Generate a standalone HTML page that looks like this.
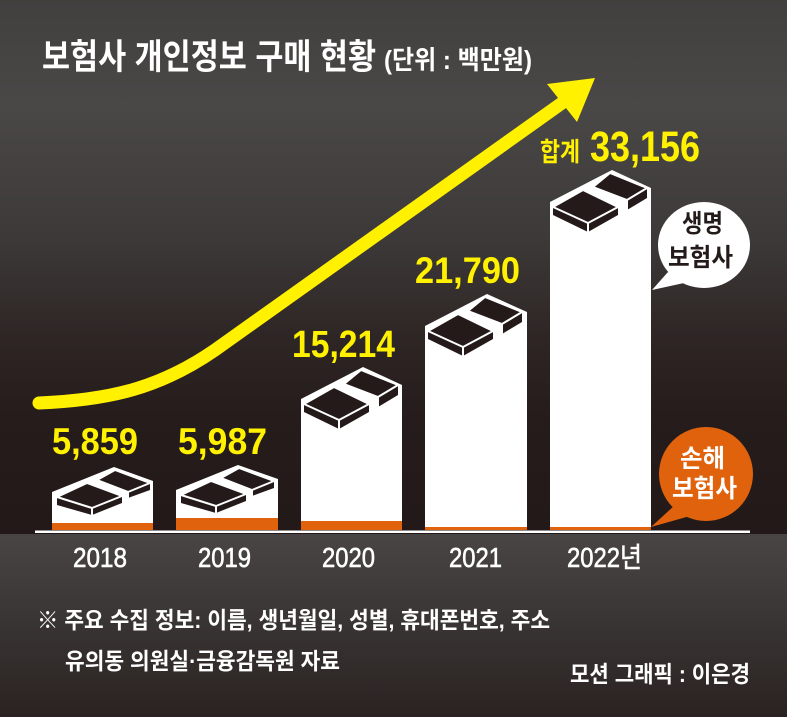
<!DOCTYPE html>
<html>
<head>
<meta charset="utf-8">
<style>
  html,body{margin:0;padding:0;background:#231a19;}
  svg{display:block;}
  .kr{font-family:"Liberation Sans","Noto Sans CJK KR",sans-serif;font-weight:bold;}
  .num{font-family:"Liberation Sans",sans-serif;font-weight:bold;}
</style>
</head>
<body>
<svg width="787" height="717" viewBox="0 0 787 717" xmlns="http://www.w3.org/2000/svg">
  <defs>
    <linearGradient id="g1" x1="0" y1="0" x2="0" y2="533" gradientUnits="userSpaceOnUse">
      <stop offset="0" stop-color="#42403f"/>
      <stop offset="0.2" stop-color="#4a4847"/>
      <stop offset="0.45" stop-color="#3c3938"/>
      <stop offset="0.62" stop-color="#2f2726"/>
      <stop offset="0.78" stop-color="#251c1b"/>
      <stop offset="1" stop-color="#221918"/>
    </linearGradient>
    <linearGradient id="g2" x1="0" y1="533" x2="0" y2="717" gradientUnits="userSpaceOnUse">
      <stop offset="0" stop-color="#484544"/>
      <stop offset="0.45" stop-color="#3a3635"/>
      <stop offset="1" stop-color="#2a2221"/>
    </linearGradient>
  </defs>

  <rect x="0" y="0" width="787" height="534" fill="url(#g1)"/>
  <rect x="0" y="534" width="787" height="183" fill="url(#g2)"/>

  <!-- Title -->
  <text class="kr" x="42" y="69" font-size="35" fill="#ffffff" textLength="334" lengthAdjust="spacingAndGlyphs">보험사 개인정보 구매 현황</text>
  <text class="kr" x="384" y="69" font-size="26" fill="#ffffff" textLength="148" lengthAdjust="spacingAndGlyphs">(단위 : 백만원)</text>

  <!-- Arrow -->
  <path d="M39,403 C110,400 160,388 215,350 L562,103" fill="none" stroke="#fff100" stroke-width="13" stroke-linecap="round" stroke-linejoin="round"/>
  <polygon points="547,84 595,78 577,122" fill="#fff100"/>

  <!-- Bar 2018 (type A) -->
  <g transform="translate(52,467)">
    <polygon points="0,25 62,0 101,14 101,63 0,63" fill="#ffffff"/>
    <rect x="0" y="56" width="101" height="7" fill="#e0620d"/>
    <polygon points="5,30 35,16 70,29 70,36 40,48 5,38" fill="#231a19"/>
    <polygon points="5,30 35,16 70,29 40,41" fill="#231a19" stroke="#fff" stroke-width="2" stroke-linejoin="round"/>
    <line x1="40" y1="41" x2="40" y2="48" stroke="#fff" stroke-width="2"/>
    <polygon points="45,13 63,3 98,16 98,23 76,31 76,25" fill="#231a19"/>
    <polygon points="45,13 63,3 98,16 76,25" fill="#231a19" stroke="#fff" stroke-width="2" stroke-linejoin="round"/>
    <line x1="76" y1="25" x2="76" y2="31" stroke="#fff" stroke-width="2"/>
  </g>

  <!-- Bar 2019 (type A) -->
  <g transform="translate(176,465)">
    <polygon points="0,25 62,0 102,14 102,65 0,65" fill="#ffffff"/>
    <rect x="0" y="53" width="102" height="12" fill="#e0620d"/>
    <polygon points="5,30 35,16 70,29 70,36 40,48 5,38" fill="#231a19"/>
    <polygon points="5,30 35,16 70,29 40,41" fill="#231a19" stroke="#fff" stroke-width="2" stroke-linejoin="round"/>
    <line x1="40" y1="41" x2="40" y2="48" stroke="#fff" stroke-width="2"/>
    <polygon points="45,13 63,3 98,16 98,23 76,31 76,25" fill="#231a19"/>
    <polygon points="45,13 63,3 98,16 76,25" fill="#231a19" stroke="#fff" stroke-width="2" stroke-linejoin="round"/>
    <line x1="76" y1="25" x2="76" y2="31" stroke="#fff" stroke-width="2"/>
  </g>

  <!-- Bar 2020 (type B) -->
  <g transform="translate(301,367)">
    <polygon points="0,32 62,0 101,18 101,163 0,163" fill="#ffffff"/>
    <rect x="0" y="154" width="101" height="9" fill="#e0620d"/>
    <polygon points="3,37 33,20 68,37 68,45 38,62 3,45" fill="#231a19"/>
    <polygon points="3,37 33,20 68,37 38,53" fill="#231a19" stroke="#fff" stroke-width="2" stroke-linejoin="round"/>
    <line x1="38" y1="53" x2="38" y2="62" stroke="#fff" stroke-width="2"/>
    <polygon points="43,17 60,3 97,18 97,28 77,40 77,30" fill="#231a19"/>
    <polygon points="43,17 60,3 97,18 77,30" fill="#231a19" stroke="#fff" stroke-width="2" stroke-linejoin="round"/>
    <line x1="77" y1="30" x2="77" y2="40" stroke="#fff" stroke-width="2"/>
  </g>

  <!-- Bar 2021 (type B) -->
  <g transform="translate(425,294)">
    <polygon points="0,32 62,0 102,18 102,236 0,236" fill="#ffffff"/>
    <rect x="0" y="233" width="102" height="3" fill="#e0620d"/>
    <polygon points="3,37 33,20 68,37 68,45 38,62 3,45" fill="#231a19"/>
    <polygon points="3,37 33,20 68,37 38,53" fill="#231a19" stroke="#fff" stroke-width="2" stroke-linejoin="round"/>
    <line x1="38" y1="53" x2="38" y2="62" stroke="#fff" stroke-width="2"/>
    <polygon points="43,17 60,3 97,18 97,28 77,40 77,30" fill="#231a19"/>
    <polygon points="43,17 60,3 97,18 77,30" fill="#231a19" stroke="#fff" stroke-width="2" stroke-linejoin="round"/>
    <line x1="77" y1="30" x2="77" y2="40" stroke="#fff" stroke-width="2"/>
  </g>

  <!-- Bar 2022 (type B) -->
  <g transform="translate(550,170)">
    <polygon points="0,32 62,0 101,18 101,360 0,360" fill="#ffffff"/>
    <rect x="0" y="357" width="101" height="3" fill="#e0620d"/>
    <polygon points="3,37 33,20 68,37 68,45 38,62 3,45" fill="#231a19"/>
    <polygon points="3,37 33,20 68,37 38,53" fill="#231a19" stroke="#fff" stroke-width="2" stroke-linejoin="round"/>
    <line x1="38" y1="53" x2="38" y2="62" stroke="#fff" stroke-width="2"/>
    <polygon points="43,17 60,3 97,18 97,28 77,40 77,30" fill="#231a19"/>
    <polygon points="43,17 60,3 97,18 77,30" fill="#231a19" stroke="#fff" stroke-width="2" stroke-linejoin="round"/>
    <line x1="77" y1="30" x2="77" y2="40" stroke="#fff" stroke-width="2"/>
  </g>

  <!-- Baseline -->
  <rect x="35" y="530.5" width="715" height="2.5" fill="#ffffff"/>

  <!-- Value labels -->
  <text class="num" x="52" y="454" font-size="37" fill="#fff100" textLength="86" lengthAdjust="spacingAndGlyphs">5,859</text>
  <text class="num" x="178" y="454" font-size="37" fill="#fff100" textLength="89" lengthAdjust="spacingAndGlyphs">5,987</text>
  <text class="num" x="292" y="357" font-size="38" fill="#fff100" textLength="103" lengthAdjust="spacingAndGlyphs">15,214</text>
  <text class="num" x="415" y="283" font-size="37" fill="#fff100" textLength="105" lengthAdjust="spacingAndGlyphs">21,790</text>
  <text class="kr" x="540" y="161" font-size="26" fill="#fff100" textLength="40" lengthAdjust="spacingAndGlyphs">합계</text>
  <text class="num" x="590" y="161" font-size="43" fill="#fff100" textLength="110" lengthAdjust="spacingAndGlyphs">33,156</text>

  <!-- Callout: 생명보험사 -->
  <polygon points="668,272 652,290 684,283" fill="#ffffff"/>
  <ellipse cx="704" cy="245" rx="46" ry="43" fill="#ffffff"/>
  <text class="kr" x="682" y="232" font-size="25" fill="#231a19" textLength="41" lengthAdjust="spacingAndGlyphs">생명</text>
  <text class="kr" x="668" y="266" font-size="25" fill="#231a19" textLength="65" lengthAdjust="spacingAndGlyphs">보험사</text>

  <!-- Callout: 손해보험사 -->
  <polygon points="675,505 651,527 690,516" fill="#e0620d"/>
  <circle cx="706" cy="474" r="47" fill="#e0620d"/>
  <text class="kr" x="680" y="467" font-size="25" fill="#ffffff" textLength="45" lengthAdjust="spacingAndGlyphs">손해</text>
  <text class="kr" x="672" y="497" font-size="25" fill="#ffffff" textLength="65" lengthAdjust="spacingAndGlyphs">보험사</text>

  <!-- Year labels -->
  <g font-family="'Liberation Sans','Noto Sans CJK KR',sans-serif" font-weight="normal" font-size="28" fill="#ffffff" stroke="#ffffff" stroke-width="0.6">
    <text x="73" y="567" textLength="54" lengthAdjust="spacingAndGlyphs">2018</text>
    <text x="198" y="567" textLength="53" lengthAdjust="spacingAndGlyphs">2019</text>
    <text x="322" y="567" textLength="53" lengthAdjust="spacingAndGlyphs">2020</text>
    <text x="449" y="567" textLength="53" lengthAdjust="spacingAndGlyphs">2021</text>
    <text x="567" y="567" textLength="75" lengthAdjust="spacingAndGlyphs">2022년</text>
  </g>

  <!-- Footer -->
  <text class="kr" x="37" y="628" font-size="23" fill="#ffffff" textLength="513" lengthAdjust="spacingAndGlyphs">※ 주요 수집 정보:  이름, 생년월일, 성별, 휴대폰번호, 주소</text>
  <text class="kr" x="65" y="669" font-size="23" fill="#ffffff" textLength="275" lengthAdjust="spacingAndGlyphs">유의동 의원실·금융감독원 자료</text>
  <text class="kr" x="570" y="682" font-size="23" fill="#ffffff" textLength="180" lengthAdjust="spacingAndGlyphs">모션 그래픽 : 이은경</text>
</svg>
</body>
</html>
